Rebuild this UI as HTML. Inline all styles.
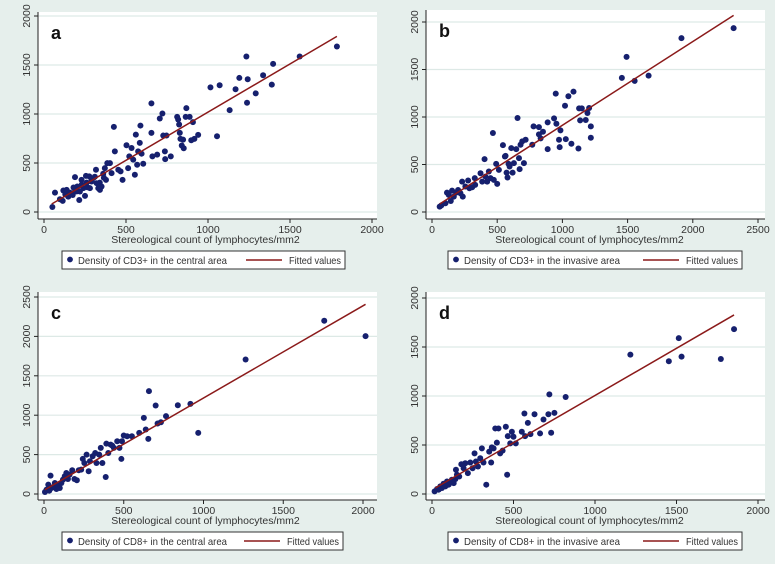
<!DOCTYPE html>
<html><head><meta charset="utf-8"><style>
body{margin:0;background:#e6efec;}
svg{display:block;font-family:"Liberation Sans",sans-serif;}
</style></head><body>
<svg id="fig" width="775" height="564" xmlns="http://www.w3.org/2000/svg">
<rect x="0" y="0" width="775" height="564" fill="#e6efec"/>
</svg>
<script>
// Panel a: CD3+ central
const aX=[51,67,97,114,118,138,148,158,175,189,189,203,215,219,229,240,250,256,264,276,280,290,300,317,321,331,341,351,361,371,378,386,402,412,426,432,453,467,479,503,513,520,534,544,554,560,568,574,584,588,595,605,655,655,661,690,706,722,727,737,739,747,773,812,818,824,828,832,840,848,852,864,868,888,898,908,917,940,1015,1055,1071,1132,1168,1191,1234,1238,1242,1291,1336,1389,1397,1559,1786,130,160,180,200,230,260,290,310,340,365];
const aY=[51,198,130,113,219,226,157,198,174,356,209,260,123,209,328,243,164,369,253,363,243,311,345,431,294,243,226,260,390,448,328,499,499,397,869,619,431,414,328,681,448,568,653,534,380,790,482,619,705,882,595,492,807,1108,568,585,954,1005,780,619,540,780,568,971,944,893,807,746,678,739,650,971,1060,971,732,917,746,787,1272,773,1293,1040,1252,1368,1587,1115,1355,1211,1395,1300,1512,1587,1689,180,190,250,210,280,300,330,360,300,350];
const aFitX=[47,1786], aFitY=[82,1792];
// Panel b: CD3+ invasive
const bX=[59,72,103,115,128,144,154,167,185,200,218,231,236,256,277,287,308,328,331,372,385,403,410,423,436,449,467,474,492,500,513,544,559,564,572,579,587,595,608,618,628,646,656,667,672,679,692,705,718,769,779,820,820,833,851,887,887,936,949,954,974,979,985,1020,1026,1046,1069,1085,1123,1128,1136,1149,1179,1192,1205,1218,1218,1456,1492,1554,1661,1913,2313];
const bY=[56,70,92,204,180,116,225,162,204,232,197,320,162,268,331,250,260,356,285,408,320,556,373,320,426,356,831,338,507,296,444,704,584,591,415,363,507,479,673,415,514,662,989,567,451,708,743,514,760,708,901,894,817,775,845,943,662,985,1246,929,760,683,859,1119,767,1218,718,1267,669,1091,964,1091,968,1042,1095,901,782,1412,1633,1380,1436,1830,1936];
const bFitX=[59,2313], bFitY=[84,2070];
// Panel c: CD8+ central
const cX=[6,16,27,33,41,47,58,68,78,88,99,109,119,130,140,150,160,177,191,206,218,233,243,253,267,280,288,305,321,329,346,356,366,387,391,403,418,428,438,459,473,485,489,500,521,551,597,626,638,654,658,700,712,733,765,839,918,967,1264,1757,2016];
const cY=[25,55,119,42,233,76,89,140,64,106,76,140,182,225,267,191,246,301,191,174,301,309,445,394,500,288,415,479,521,394,500,585,394,216,640,521,627,614,585,670,585,445,670,742,733,733,775,966,818,699,1305,1123,894,911,988,1127,1144,775,1707,2199,2004];
const cFitX=[6,2016], cFitY=[55,2407];
// Panel d: CD8+ invasive
const dX=[16,31,41,51,61,71,82,92,102,112,122,133,143,147,153,167,180,194,204,220,235,249,261,269,282,296,306,316,333,351,363,367,378,388,398,408,418,433,453,461,465,480,490,500,514,551,567,571,588,604,629,663,684,714,720,731,751,820,1217,1453,1514,1531,1772,1853];
const dY=[27,51,44,78,61,105,78,128,95,118,145,111,152,247,196,179,304,263,314,213,321,263,415,331,280,365,466,321,95,432,321,476,466,669,524,669,415,442,686,196,591,517,635,584,517,635,821,591,726,611,814,618,760,814,1017,625,828,990,1422,1355,1591,1402,1378,1682];
const dFitX=[20,1853], dFitY=[61,1827];

const xTicksA=[0,500,1000,1500,2000], yTicksA=[0,500,1000,1500,2000];
const xTicksB=[0,500,1000,1500,2000,2500], yTicksB=[0,500,1000,1500,2000];
const xTicksC=[0,500,1000,1500,2000], yTicksC=[0,500,1000,1500,2000,2500];
const xTicksD=[0,500,1000,1500,2000], yTicksD=[0,500,1000,1500,2000];

const NS="http://www.w3.org/2000/svg";
const svg=document.getElementById('fig');
function mk(tag,attrs,parent){const e=document.createElementNS(NS,tag);for(const k in attrs)e.setAttribute(k,attrs[k]);(parent||svg).appendChild(e);return e;}

function panel(p){
  const g=mk('g',{});
  
  
  const sx=v=>p.x0+(v-0)*(p.x1-p.x0)/p.xMax;
  const sy=v=>p.y0-(v-0)*(p.y0-p.y1)/p.yMax;
  const pa=mk('rect',{x:p.L,y:p.T,width:p.R-p.L,height:p.B-p.T,fill:'#ffffff'},g);
  
  
  p.yTicks.forEach(t=>{
    const gl=mk('line',{x1:p.L,x2:p.R,y1:sy(t),y2:sy(t),stroke:'#dde9e6','stroke-width':1.2},g);
    
    
    const tk=mk('line',{x1:p.L-4,x2:p.L,y1:sy(t),y2:sy(t),stroke:'#222','stroke-width':1},g);
    
    
    const tx=mk('text',{x:0,y:0,transform:`translate(${p.L-8},${sy(t)}) rotate(-90)`,'text-anchor':'middle','font-size':10.5,fill:'#333'},g);
    tx.textContent=t;
    
    
  });
  p.xTicks.forEach(t=>{
    const tk=mk('line',{x1:sx(t),x2:sx(t),y1:p.B,y2:p.B+4,stroke:'#222','stroke-width':1},g);
    
    
    const tx=mk('text',{x:sx(t),y:p.B+14,'text-anchor':'middle','font-size':10.5,fill:'#333'},g);
    tx.textContent=t;
    
    
  });
  const ya=mk('line',{x1:p.L,x2:p.L,y1:p.T,y2:p.B,stroke:'#222','stroke-width':1},g);
  
  
  const xa=mk('line',{x1:p.L,x2:p.R,y1:p.B,y2:p.B,stroke:'#222','stroke-width':1},g);
  
  
  const xt=mk('text',{x:(p.L+p.R)/2+(p.id==='a'||p.id==='c'?-2:-6),y:p.B+24,'text-anchor':'middle','font-size':10.5,fill:'#333'},g);
  xt.textContent='Stereological count of lymphocytes/mm2';
  
  
  const lt=mk('text',{x:p.L+13,y:p.T+27,'font-size':18,'font-weight':'bold',fill:'#111'},g);
  lt.textContent=p.id;
  
  
  for(let i=0;i<p.xs.length;i++){
    const c=mk('circle',{cx:sx(p.xs[i]),cy:sy(p.ys[i]),r:3,fill:'#16206e'},g);
    
    
  }
  const fl=mk('line',{x1:sx(p.fx[0]),y1:sy(p.fy[0]),x2:sx(p.fx[1]),y2:sy(p.fy[1]),stroke:'#8b1a1a','stroke-width':1.5},g);
  
  
  const lg=mk('g',{},g);
  
  
  mk('rect',{x:p.lgL,y:p.lgT,width:p.lgR-p.lgL,height:18,fill:'#fff',stroke:'#333','stroke-width':1},lg);
  const ld=mk('circle',{cx:p.lgL+8,cy:p.lgT+8.5,r:2.9,fill:'#16206e'},lg);
  
  
  const l1=mk('text',{x:p.lgL+16,y:p.lgT+13,'font-size':10.5,fill:'#333',textLength:p.tl,lengthAdjust:'spacingAndGlyphs'},lg);
  l1.textContent=p.label;
  
  
  const ll=mk('line',{x1:p.lgR-99,x2:p.lgR-63,y1:p.lgT+9,y2:p.lgT+9,stroke:'#8b1a1a','stroke-width':1.5},lg);
  
  
  const l2=mk('text',{x:p.lgR-56,y:p.lgT+13,'font-size':10.5,fill:'#333',textLength:52,lengthAdjust:'spacingAndGlyphs'},lg);
  l2.textContent='Fitted values';
  
  
}

panel({id:'a',x0:44,x1:372,xMax:2000,y0:212,y1:16,yMax:2000,L:38,R:377,T:12,B:219,xTicks:xTicksA,yTicks:yTicksA,xs:aX,ys:aY,fx:aFitX,fy:aFitY,lgL:62,lgR:345,lgT:251,tl:149,label:'Density of CD3+ in the central area'});
panel({id:'b',x0:432,x1:758,xMax:2500,y0:212,y1:22,yMax:2000,L:426,R:765,T:10,B:219,xTicks:xTicksB,yTicks:yTicksB,xs:bX,ys:bY,fx:bFitX,fy:bFitY,lgL:448,lgR:742,lgT:251,tl:156,label:'Density of CD3+ in the invasive area'});
panel({id:'c',x0:44,x1:363,xMax:2000,y0:494,y1:297,yMax:2500,L:38,R:377,T:292,B:500,xTicks:xTicksC,yTicks:yTicksC,xs:cX,ys:cY,fx:cFitX,fy:cFitY,lgL:62,lgR:343,lgT:532,tl:149,label:'Density of CD8+ in the central area'});
panel({id:'d',x0:432,x1:758,xMax:2000,y0:494,y1:298,yMax:2000,L:426,R:765,T:292,B:500,xTicks:xTicksD,yTicks:yTicksD,xs:dX,ys:dY,fx:dFitX,fy:dFitY,lgL:448,lgR:742,lgT:532,tl:156,label:'Density of CD8+ in the invasive area'});
</script>
</body></html>
